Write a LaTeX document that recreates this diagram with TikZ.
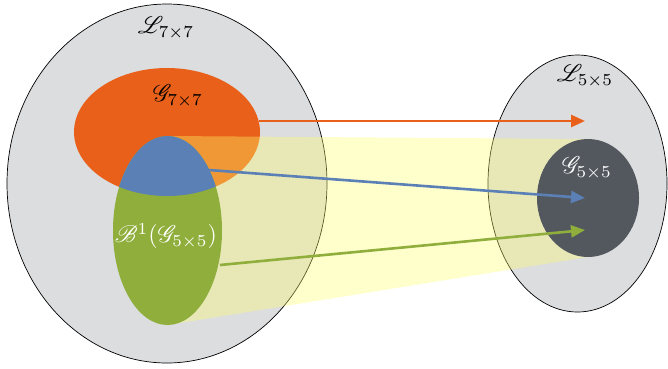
\documentclass[tikz,border=0pt]{standalone}
\usepackage{mathrsfs}
\usetikzlibrary{arrows.meta}
\definecolor{lgray}{HTML}{DCDDDF}
\definecolor{orangeC}{HTML}{E9601A}
\definecolor{blueC}{HTML}{5B80B5}
\definecolor{greenC}{HTML}{8FAE3B}
\definecolor{darkC}{HTML}{53585F}
\definecolor{yellowC}{RGB}{255,255,109}
\tikzset{
  region/.style={fill=lgray, draw=black, line width=0.7pt},
  arr/.style={line width=2.6pt, -{Triangle[length=14pt,width=12pt]}},
  lab/.style={scale=2.4, inner sep=0pt},
}
\begin{document}
\begin{tikzpicture}[x=1pt,y=-1pt]
\useasboundingbox (0,0) rectangle (668,368);
% big regions
\fill[region] (167,183.5) ellipse [x radius=160, y radius=179.5];
\fill[region] (577.5,183.5) ellipse [x radius=89.5, y radius=128.5];
% orange G7x7
\fill[orangeC] (167,132) ellipse [x radius=93, y radius=64];
% yellow translucent band
\fill[yellowC, fill opacity=0.35] (167.5,136) -- (588,139) -- (588,257) -- (167.5,325) -- cycle;
% green ellipse
\fill[greenC] (167.5,230.5) ellipse [x radius=54.5, y radius=94.5];
% blue intersection
\begin{scope}
  \clip (167,132) ellipse [x radius=93, y radius=64];
  \fill[blueC] (167.5,230.5) ellipse [x radius=54.5, y radius=94.5];
\end{scope}
% dark G5x5
\fill[darkC] (588,198) ellipse [x radius=51, y radius=59];
% labels
\node[lab] (l7) at (166,28) {$\mathscr{L}_{7\times7}$};
\node[lab] (g7) at (178,96) {$\mathscr{G}_{7\times7}$};
\node[lab, text=white] (b1) at (166,236) {$\mathscr{B}^1(\mathscr{G}_{5\times5})$};
\node[lab] (l5) at (585,76) {$\mathscr{L}_{5\times5}$};
\node[lab, text=white] (g5) at (587,168) {$\mathscr{G}_{5\times5}$};
% arrow endpoints
\coordinate (oS) at (259,121);
\coordinate (oE) at (585,121);
\coordinate (bS) at (209,170);
\coordinate (bE) at (585,198);
\coordinate (gS) at (220,265);
\coordinate (gE) at (585,230);
\draw[arr, orangeC] (oS) -- (oE);
\draw[arr, blueC] (bS) -- (bE);
\draw[arr, greenC] (gS) -- (gE);
\end{tikzpicture}
\end{document}
